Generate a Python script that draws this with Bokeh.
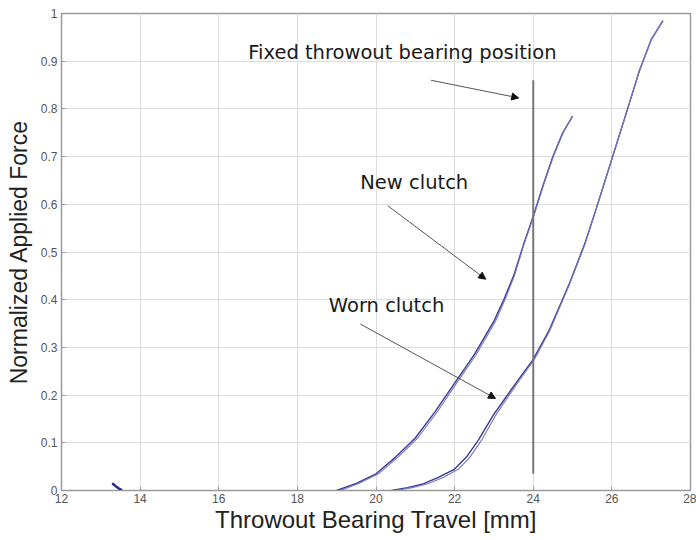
from bokeh.plotting import figure
from bokeh.models import Arrow, NormalHead, Label, FixedTicker, Range1d
from bokeh.embed import file_html
from bokeh.resources import INLINE

# ---- data ----
x_ticks = [12, 14, 16, 18, 20, 22, 24, 26, 28]
x_tick_labels = ["12", "14", "16", "18", "20", "22", "24", "26", "28"]
y_ticks = [0, 0.1, 0.2, 0.3, 0.4, 0.5, 0.6, 0.7, 0.8, 0.9, 1.0]
y_tick_labels = ["0", "0.1", "0.2", "0.3", "0.4", "0.5", "0.6", "0.7", "0.8", "0.9", "1"]

new_x_load = [19.0, 19.5, 20.0, 20.5, 21.0, 21.5, 22.0, 22.5, 23.0, 23.25, 23.5, 23.75, 24.0, 24.25, 24.5, 24.75, 25.0]
new_y_load = [0.0, 0.015, 0.035, 0.07, 0.11, 0.165, 0.225, 0.285, 0.355, 0.40, 0.45, 0.515, 0.575, 0.64, 0.70, 0.75, 0.785]
new_x_unload = [19.1, 19.57, 20.06, 20.56, 21.06, 21.56, 22.05, 22.55, 23.04, 23.28, 23.52, 23.76, 24.01, 24.26, 24.51, 24.76, 25.0]
new_y_unload = [0.0, 0.015, 0.035, 0.07, 0.11, 0.165, 0.225, 0.285, 0.355, 0.40, 0.45, 0.515, 0.575, 0.64, 0.70, 0.75, 0.785]

worn_x_load = [20.4, 20.8, 21.2, 21.6, 22.0, 22.3, 22.6, 23.0, 23.3, 23.6, 24.0, 24.4, 24.9, 25.3, 25.6, 26.0, 26.4, 26.7, 27.0, 27.3]
worn_y_load = [0.0, 0.006, 0.014, 0.028, 0.045, 0.07, 0.105, 0.16, 0.195, 0.23, 0.275, 0.335, 0.43, 0.515, 0.59, 0.695, 0.80, 0.88, 0.945, 0.985]
worn_x_unload = [20.5, 20.92, 21.32, 21.72, 22.1, 22.39, 22.68, 23.06, 23.35, 23.64, 24.03, 24.42, 24.91, 25.31, 25.6, 26.0, 26.4, 26.7, 27.0, 27.3]
worn_y_unload = [0.0, 0.006, 0.014, 0.028, 0.045, 0.07, 0.105, 0.16, 0.195, 0.23, 0.275, 0.335, 0.43, 0.515, 0.59, 0.695, 0.80, 0.88, 0.945, 0.985]

blip_x = [13.29, 13.38, 13.46, 13.54]
blip_y = [0.015, 0.009, 0.004, 0.001]

fixed_x = [24.0, 24.0]
fixed_y = [0.035, 0.86]

# annotations: text, text x/y, arrow start x/y, arrow end x/y
ann_text = ["Fixed throwout bearing position", "New clutch", "Worn clutch"]
ann_tx = [16.75, 19.6, 18.8]
ann_ty = [0.918, 0.645, 0.387]
arr_x0 = [21.4, 20.3, 19.6]
arr_y0 = [0.86, 0.597, 0.349]
arr_x1 = [23.63, 22.79, 23.04]
arr_y1 = [0.823, 0.443, 0.193]

# ---- figure ----
p = figure(width=696, height=540, output_backend="svg", toolbar_location=None,
           x_range=Range1d(12, 28), y_range=Range1d(0, 1),
           min_border_left=61, min_border_right=6, min_border_top=13, min_border_bottom=50)
p.background_fill_color = "white"
p.border_fill_color = "white"
p.outline_line_color = "#9a9a9a"
p.outline_line_width = 1.5

for ax, ticks, labels in ((p.xaxis[0], x_ticks, x_tick_labels), (p.yaxis[0], y_ticks, y_tick_labels)):
    ax.ticker = FixedTicker(ticks=ticks)
    ax.major_label_overrides = {t: l for t, l in zip(ticks, labels)}
    ax.major_tick_in = 4
    ax.major_tick_out = 0
    ax.minor_tick_line_color = None
    ax.axis_line_color = "#9a9a9a"
    ax.major_tick_line_color = "#9a9a9a"
    ax.major_label_text_font = "Liberation Sans"
    ax.major_label_text_font_size = "12px"
    ax.major_label_text_color = "#555555"
    ax.axis_label_text_font = "Liberation Sans"
    ax.axis_label_text_font_style = "normal"
    ax.axis_label_text_color = "#222222"

p.xaxis.axis_label = "Throwout Bearing Travel [mm]"
p.yaxis.axis_label = "Normalized Applied Force"
p.xaxis.axis_label_text_font_size = "24px"
p.yaxis.axis_label_text_font_size = "23px"
p.xaxis.major_label_standoff = 3
p.yaxis.major_label_standoff = 4
p.xaxis.axis_label_standoff = 0
p.yaxis.axis_label_standoff = 6

p.xgrid.ticker = FixedTicker(ticks=x_ticks)
p.ygrid.ticker = FixedTicker(ticks=y_ticks)
p.grid.grid_line_color = "#dcdcdc"
p.grid.grid_line_width = 1

# curves
p.line(new_x_load, new_y_load, line_color="#3a3a94", line_width=1.4)
p.line(new_x_unload, new_y_unload, line_color="#7676bb", line_width=1.1)
p.line(worn_x_load, worn_y_load, line_color="#3a3a94", line_width=1.4)
p.line(worn_x_unload, worn_y_unload, line_color="#7676bb", line_width=1.1)
p.line(blip_x, blip_y, line_color="#2a2a90", line_width=2.5)

# fixed throwout bearing position
p.line(fixed_x, fixed_y, line_color="#777777", line_width=2)

for t, tx, ty, x0, y0, x1, y1 in zip(ann_text, ann_tx, ann_ty, arr_x0, arr_y0, arr_x1, arr_y1):
    p.add_layout(Label(x=tx, y=ty, text=t, text_font="DejaVu Sans", text_font_size="19.5px",
                       text_color="#1a1a1a", text_baseline="middle", text_align="left"))
    p.add_layout(Arrow(x_start=x0, y_start=y0, x_end=x1, y_end=y1,
                       line_color="#555555", line_width=1,
                       end=NormalHead(size=7, fill_color="#111111", line_color="#111111")))

open("out.html", "w").write(file_html(p, INLINE))
